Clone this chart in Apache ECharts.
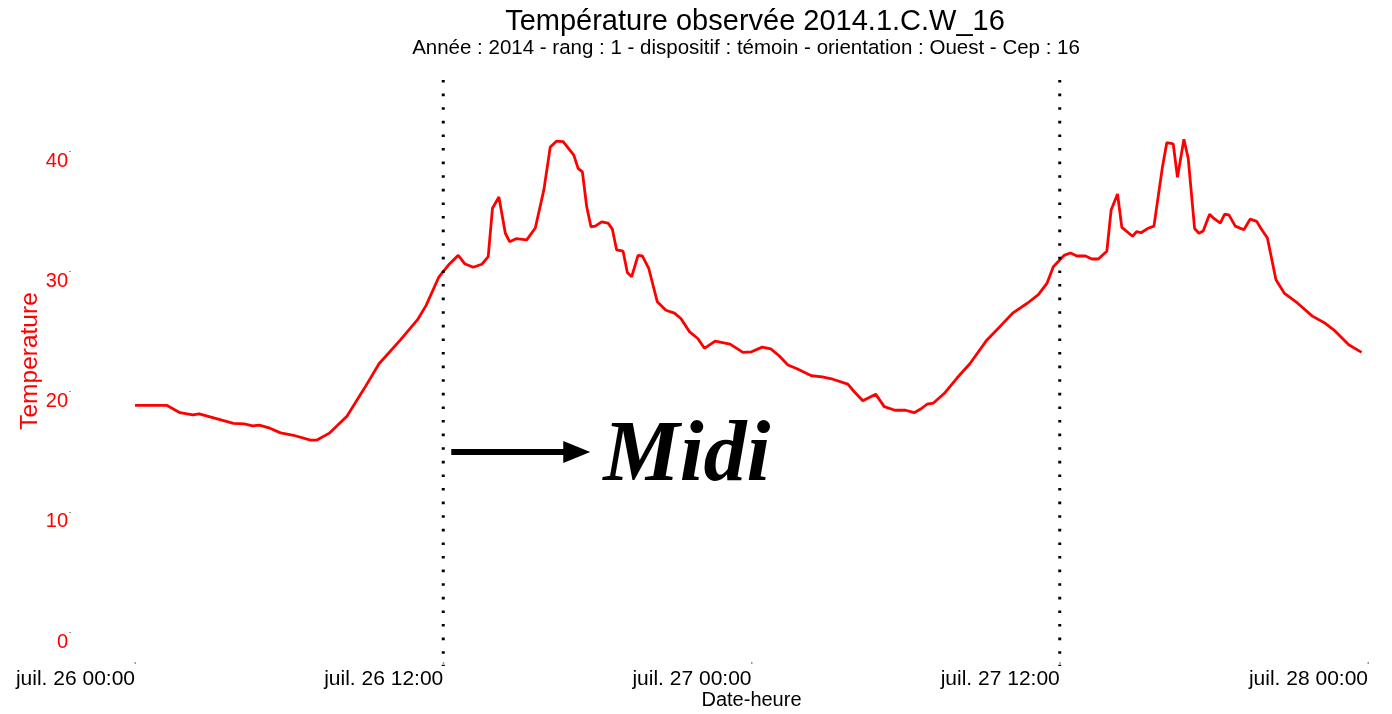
<!DOCTYPE html>
<html>
<head>
<meta charset="utf-8">
<title>Température observée 2014.1.C.W_16</title>
<script src="https://cdn.jsdelivr.net/npm/echarts@6/dist/echarts.min.js"></script>
<style>
  html, body { margin: 0; padding: 0; background: #ffffff; }
  #chart { width: 1392px; height: 714px; }
</style>
</head>
<body>
<div id="chart"></div>
<script>
// Measurement times (UTC) and air temperature, juil. 26 – juil. 28 2014
const times = [
  '2014-07-26 00:00', '2014-07-26 01:15', '2014-07-26 01:45', '2014-07-26 02:15', '2014-07-26 02:30',
  '2014-07-26 03:10', '2014-07-26 03:50', '2014-07-26 04:15', '2014-07-26 04:35', '2014-07-26 04:50',
  '2014-07-26 05:15', '2014-07-26 05:40', '2014-07-26 06:10', '2014-07-26 06:50', '2014-07-26 07:05',
  '2014-07-26 07:35', '2014-07-26 08:15', '2014-07-26 08:55', '2014-07-26 09:30', '2014-07-26 10:20',
  '2014-07-26 11:00', '2014-07-26 11:20', '2014-07-26 11:50', '2014-07-26 12:15', '2014-07-26 12:35',
  '2014-07-26 12:50', '2014-07-26 13:10', '2014-07-26 13:30', '2014-07-26 13:45', '2014-07-26 13:55',
  '2014-07-26 14:10', '2014-07-26 14:25', '2014-07-26 14:35', '2014-07-26 14:50', '2014-07-26 15:15',
  '2014-07-26 15:35', '2014-07-26 15:55', '2014-07-26 16:10', '2014-07-26 16:25', '2014-07-26 16:40',
  '2014-07-26 17:05', '2014-07-26 17:15', '2014-07-26 17:25', '2014-07-26 17:35', '2014-07-26 17:45',
  '2014-07-26 17:55', '2014-07-26 18:10', '2014-07-26 18:25', '2014-07-26 18:35', '2014-07-26 18:45',
  '2014-07-26 19:00', '2014-07-26 19:10', '2014-07-26 19:20', '2014-07-26 19:35', '2014-07-26 19:45',
  '2014-07-26 20:00', '2014-07-26 20:20', '2014-07-26 20:40', '2014-07-26 21:00', '2014-07-26 21:15',
  '2014-07-26 21:35', '2014-07-26 21:55', '2014-07-26 22:10', '2014-07-26 22:35', '2014-07-26 23:10',
  '2014-07-26 23:40', '2014-07-27 00:00', '2014-07-27 00:25', '2014-07-27 00:45', '2014-07-27 01:05',
  '2014-07-27 01:25', '2014-07-27 01:45', '2014-07-27 02:20', '2014-07-27 02:45', '2014-07-27 03:10',
  '2014-07-27 03:45', '2014-07-27 04:00', '2014-07-27 04:20', '2014-07-27 04:50', '2014-07-27 05:10',
  '2014-07-27 05:35', '2014-07-27 06:00', '2014-07-27 06:20', '2014-07-27 06:35', '2014-07-27 06:50',
  '2014-07-27 07:05', '2014-07-27 07:30', '2014-07-27 08:00', '2014-07-27 08:30', '2014-07-27 09:10',
  '2014-07-27 09:40', '2014-07-27 10:10', '2014-07-27 10:45', '2014-07-27 11:10', '2014-07-27 11:30',
  '2014-07-27 11:45', '2014-07-27 12:10', '2014-07-27 12:25', '2014-07-27 12:40', '2014-07-27 13:00',
  '2014-07-27 13:15', '2014-07-27 13:30', '2014-07-27 13:50', '2014-07-27 14:00', '2014-07-27 14:15',
  '2014-07-27 14:25', '2014-07-27 14:50', '2014-07-27 15:00', '2014-07-27 15:10', '2014-07-27 15:25',
  '2014-07-27 15:40', '2014-07-27 16:00', '2014-07-27 16:10', '2014-07-27 16:25', '2014-07-27 16:35',
  '2014-07-27 16:50', '2014-07-27 17:00', '2014-07-27 17:15', '2014-07-27 17:25', '2014-07-27 17:35',
  '2014-07-27 17:50', '2014-07-27 18:00', '2014-07-27 18:15', '2014-07-27 18:25', '2014-07-27 18:35',
  '2014-07-27 18:50', '2014-07-27 19:10', '2014-07-27 19:25', '2014-07-27 19:40', '2014-07-27 19:50',
  '2014-07-27 20:05', '2014-07-27 20:25', '2014-07-27 20:45', '2014-07-27 21:15', '2014-07-27 21:50',
  '2014-07-27 22:20', '2014-07-27 22:40', '2014-07-27 23:15', '2014-07-27 23:45'
];

const temperature = [
  18.84, 18.84, 18.24, 18.05, 18.14,
  17.75, 17.35, 17.30, 17.15, 17.20,
  16.95, 16.56, 16.36, 15.96, 15.96,
  16.56, 17.95, 20.22, 22.31, 24.29,
  25.97, 27.16, 29.54, 30.63, 31.32,
  30.63, 30.33, 30.58, 31.22, 35.24,
  36.18, 33.16, 32.46, 32.71, 32.61,
  33.60, 36.77, 40.34, 40.83, 40.78,
  39.65, 38.56, 38.26, 35.38, 33.70,
  33.75, 34.10, 34.00, 33.50, 31.77,
  31.67, 29.89, 29.54, 31.32, 31.27,
  30.23, 27.46, 26.76, 26.52, 26.07,
  24.98, 24.39, 23.59, 24.19, 23.94,
  23.25, 23.30, 23.69, 23.54, 22.95,
  22.21, 21.91, 21.31, 21.22, 21.02,
  20.62, 19.98, 19.23, 19.78, 18.74,
  18.44, 18.44, 18.24, 18.54, 18.94,
  19.04, 19.83, 21.12, 22.31, 24.29,
  25.38, 26.52, 27.36, 28.05, 28.99,
  30.38, 31.32, 31.52, 31.27, 31.27,
  31.02, 31.02, 31.67, 35.09, 36.42,
  33.65, 32.91, 33.30, 33.20, 33.55,
  33.75, 38.70, 40.69, 40.59, 37.82,
  40.98, 39.40, 33.55, 33.16, 33.35,
  34.74, 34.39, 34.00, 34.74, 34.69,
  33.75, 33.45, 34.34, 34.15, 33.55,
  32.76, 29.29, 28.15, 27.36, 26.27,
  25.67, 25.13, 23.89, 23.25
];

// Axis ticks
const xTickLabels = ['juil. 26 00:00', 'juil. 26 12:00', 'juil. 27 00:00', 'juil. 27 12:00', 'juil. 28 00:00'];
const yTicks = [0, 10, 20, 30, 40];
// Noon reference lines
const noonMarks = ['2014-07-26 12:00', '2014-07-27 12:00'];

function parseUTC(s) {
  const m = s.match(/(\d+)-(\d+)-(\d+) (\d+):(\d+)/);
  return Date.UTC(+m[1], +m[2] - 1, +m[3], +m[4], +m[5]);
}

const HALF_DAY = 12 * 3600 * 1000;
const xStart = parseUTC('2014-07-26 00:00');
const xEnd = parseUTC('2014-07-28 00:00');
const seriesData = times.map((t, i) => [parseUTC(t), temperature[i]]);

const chart = echarts.init(document.getElementById('chart'), null, { renderer: 'canvas' });

const baseFont = '"Liberation Sans", Arial, Helvetica, sans-serif';

chart.setOption({
  animation: false,
  backgroundColor: '#ffffff',
  title: [
    {
      text: 'Température observée 2014.1.C.W_16',
      left: 750, top: 2, textAlign: 'center',
      textStyle: { fontFamily: baseFont, fontSize: 29, fontWeight: 'normal', color: '#000' }
    },
    {
      text: 'Année : 2014 - rang : 1 - dispositif : témoin - orientation : Ouest - Cep : 16',
      left: 741, top: 33, textAlign: 'center',
      textStyle: { fontFamily: baseFont, fontSize: 20.5, fontWeight: 'normal', color: '#000' }
    }
  ],
  grid: { left: 135, right: 24, top: 151, bottom: 82, outerBoundsMode: 'none' },
  xAxis: {
    type: 'value',
    min: xStart,
    max: xEnd,
    interval: HALF_DAY,
    name: 'Date-heure',
    nameLocation: 'middle',
    nameGap: 58,
    nameMoveOverlap: false,
    nameTextStyle: { fontFamily: baseFont, fontSize: 20, color: '#000' },
    axisLine: { show: false },
    axisTick: { show: false },
    splitLine: { show: false },
    axisLabel: {
      align: 'right',
      verticalAlign: 'top',
      margin: 37,
      fontFamily: baseFont,
      fontSize: 21,
      color: '#000',
      formatter: v => xTickLabels[Math.round((v - xStart) / HALF_DAY)] || ''
    }
  },
  yAxis: {
    type: 'value',
    min: yTicks[0],
    max: yTicks[yTicks.length - 1],
    interval: yTicks[1] - yTicks[0],
    offset: 64,
    axisLine: { show: false },
    axisTick: { show: true, length: 2, lineStyle: { color: '#999', width: 1 } },
    splitLine: { show: false },
    axisLabel: {
      align: 'right',
      verticalAlign: 'top',
      margin: 3,
      fontFamily: baseFont,
      fontSize: 20,
      color: '#ff0000'
    }
  },
  series: [{
    type: 'line',
    data: seriesData,
    showSymbol: false,
    clip: false,
    lineStyle: { color: '#ff0000', width: 2.8 },
    z: 3
  }]
});

// Annotations: dotted noon lines, x tick dots, arrow and "Midi" label, rotated y-axis title
function drawAnnotations() {
  const els = [];
  xTickLabels.forEach((_, i) => {
    const x = chart.convertToPixel({ xAxisIndex: 0 }, xStart + i * HALF_DAY);
    els.push({
      type: 'rect',
      shape: { x: x - 0.5, y: 662, width: 1.5, height: 2 },
      style: { fill: '#999' },
      z: 4
    });
  });
  const noonX = noonMarks.map(t => chart.convertToPixel({ xAxisIndex: 0 }, parseUTC(t)));
  noonX.forEach(x => {
    els.push({
      type: 'line',
      shape: { x1: x, y1: 80, x2: x, y2: 666 },
      style: { stroke: '#000', lineWidth: 3, lineDash: [2.6, 11], lineCap: 'butt' },
      z: 5
    });
  });
  const ax = noonX[0] + 8;
  const ay = 452;
  els.push({
    type: 'line',
    shape: { x1: ax, y1: ay, x2: ax + 116, y2: ay },
    style: { stroke: '#000', lineWidth: 6 },
    z: 6
  });
  els.push({
    type: 'polygon',
    shape: { points: [[ax + 112, ay - 11], [ax + 139, ay], [ax + 112, ay + 11]] },
    style: { fill: '#000' },
    z: 6
  });
  els.push({
    type: 'text',
    style: {
      x: ax + 152, y: 458,
      text: 'Midi',
      font: 'italic bold 86px "Liberation Serif", "Times New Roman", serif',
      fill: '#000',
      verticalAlign: 'middle',
      align: 'left'
    },
    z: 6
  });
  els.push({
    type: 'text',
    x: 30, y: 361,
    rotation: Math.PI / 2,
    style: {
      text: 'Temperature',
      font: '24.5px ' + baseFont,
      fill: '#ff0000',
      align: 'center',
      verticalAlign: 'middle'
    },
    z: 6
  });
  chart.setOption({ graphic: els });
}
drawAnnotations();
</script>
</body>
</html>
